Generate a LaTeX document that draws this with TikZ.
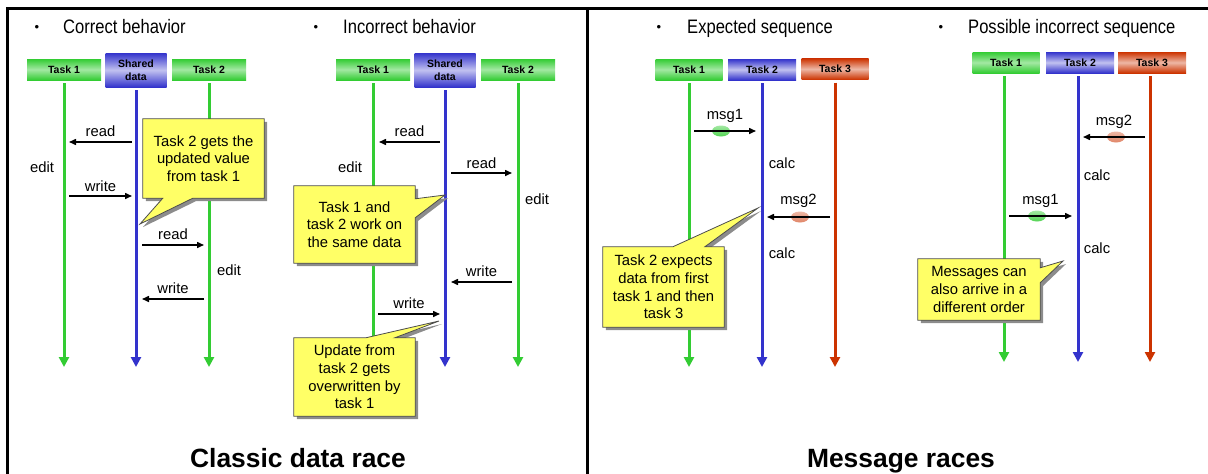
\documentclass[tikz,border=0pt]{standalone}
\usepackage{fontspec}
\setmainfont{Liberation Sans}
\newfontfamily\narrowfont[FakeStretch=0.85]{Liberation Sans}
\usetikzlibrary{arrows.meta, shapes.geometric}

\definecolor{lgreen}{RGB}{51,204,51}
\definecolor{lblue}{RGB}{51,51,204}
\definecolor{lred}{RGB}{204,51,0}
\definecolor{noteyellow}{RGB}{255,255,102}

\pgfdeclarelayer{notebg}
\pgfdeclarelayer{notefg}
\pgfsetlayers{main,notebg,notefg}

\begin{document}
\begin{tikzpicture}[x=1pt, y=-1pt,
    every node/.style={font=\fontsize{14.8}{17.7}\selectfont},
    head/.style={font=\fontsize{10.5}{12.5}\selectfont\bfseries, inner sep=0pt, minimum height=21pt, minimum width=74pt},
    greenhead/.style={head, top color=lgreen, bottom color=lgreen, middle color=lgreen!45!white},
    bluehead/.style={head, top color=lblue, bottom color=lblue, middle color=lblue!30!white},
    redhead/.style={head, top color=lred, bottom color=lred, middle color=lred!35!white},
    life/.style={line width=3pt, shorten <=3pt, -{Triangle[width=10pt,length=10pt]}},
    msg/.style={line width=1.5pt, -{Triangle[width=6pt,length=7pt]}},
    lbl/.style={midway, anchor=base, inner sep=0pt, yshift=6pt},
    mlbl/.style={midway, anchor=base, inner sep=0pt, yshift=11.5pt},
    side/.style={anchor=base, inner sep=0pt},
    dot/.style={ellipse, minimum width=18pt, minimum height=11pt, inner sep=0pt},
    note/.style={fill=noteyellow, draw=black!70, line width=0.8pt,
      preaction={fill=black!45, transform canvas={shift={(3pt,-3pt)}}}},
    notetext/.style={align=center, inner sep=0pt},
    bullet/.style={font=\fontsize{13}{15}\selectfont, anchor=base},
    caption/.style={font=\narrowfont\fontsize{19.5}{22}\selectfont, anchor=base west, inner sep=0pt},
    title/.style={font=\fontsize{26.4}{30}\selectfont\bfseries, anchor=base}
  ]
  \useasboundingbox (0,0) rectangle (1208,474);

  % frame
  \draw[line width=3pt] (7,474) -- (7,8.5) -- (1208,8.5);
  \draw[line width=3pt] (587.5,8.5) -- (587.5,474);

  % ---------- classic data race ----------
  \node[bullet] (b1) at (37,31) {•};
  \node[caption] (h1) at (63,33) {Correct behavior};
  \node[bullet] (b2) at (316,31) {•};
  \node[caption] (h2) at (343,33) {Incorrect behavior};

  \node[greenhead] (ta1) at (64,69.5) {Task 1};
  \node[bluehead, minimum width=61pt, minimum height=34pt, align=center] (sd1) at (136,70) {Shared\\data};
  \node[greenhead] (ta2) at (209,69.5) {Task 2};
  \coordinate (ea1) at (64,367);
  \coordinate (esd1) at (136,367);
  \coordinate (ea2) at (209,367);
  \draw[life, lgreen] (ta1) -- (ea1);
  \draw[life, lblue] (sd1) -- (esd1);
  \draw[life, lgreen] (ta2) -- (ea2);

  \coordinate (r1s) at (132,142);  \coordinate (r1e) at (69,142);
  \coordinate (w1s) at (69,196);   \coordinate (w1e) at (132,196);
  \coordinate (r2s) at (142,245);  \coordinate (r2e) at (204,245);
  \coordinate (w2s) at (204,299);  \coordinate (w2e) at (142,299);
  \draw[msg] (r1s) -- (r1e) node[lbl] {read};
  \draw[msg] (w1s) -- (w1e) node[lbl, yshift=-1pt] {write};
  \draw[msg] (r2s) -- (r2e) node[lbl] {read};
  \draw[msg] (w2s) -- (w2e) node[lbl] {write};
  \node[side] (ed1) at (42,172) {edit};
  \node[side] (ed2) at (229,275) {edit};

  \node[greenhead] (tb1) at (373,69.5) {Task 1};
  \node[bluehead, minimum width=61pt, minimum height=34pt, align=center] (sd2) at (445,70) {Shared\\data};
  \node[greenhead] (tb2) at (518,69.5) {Task 2};
  \coordinate (eb1) at (373,367);
  \coordinate (esd2) at (445,367);
  \coordinate (eb2) at (518,367);
  \draw[life, lgreen] (tb1) -- (eb1);
  \draw[life, lblue] (sd2) -- (esd2);
  \draw[life, lgreen] (tb2) -- (eb2);

  \coordinate (r3s) at (440,142);  \coordinate (r3e) at (379,142);
  \coordinate (r4s) at (451,173);  \coordinate (r4e) at (512,173);
  \coordinate (w3s) at (512,282);  \coordinate (w3e) at (451,282);
  \coordinate (w4s) at (378,314);  \coordinate (w4e) at (440,314);
  \draw[msg] (r3s) -- (r3e) node[lbl] {read};
  \draw[msg] (r4s) -- (r4e) node[lbl, yshift=-1pt] {read};
  \draw[msg] (w3s) -- (w3e) node[lbl] {write};
  \draw[msg] (w4s) -- (w4e) node[lbl] {write};
  \node[side] (ed3) at (350,172) {edit};
  \node[side] (ed4) at (537,204) {edit};

  \node[title] (t1) at (298,467) {Classic data race};

  % ---------- message races ----------
  \node[bullet] (b3) at (659,31) {•};
  \node[caption] (h3) at (687,33) {Expected sequence};
  \node[bullet] (b4) at (941,31) {•};
  \node[caption] (h4) at (968,33) {Possible incorrect sequence};

  \node[greenhead, minimum width=67pt] (tc1) at (689,69.5) {Task 1};
  \node[bluehead, minimum width=68pt] (tc2) at (762,69.5) {Task 2};
  \node[redhead, minimum width=67pt] (tc3) at (835,69) {Task 3};
  \coordinate (ec1) at (689,367);
  \coordinate (ec2) at (762,367);
  \coordinate (ec3) at (835,367);
  \draw[life, lgreen] (tc1) -- (ec1);
  \draw[life, lblue] (tc2) -- (ec2);
  \draw[life, lred] (tc3) -- (ec3);

  \node[dot, top color=lgreen!45!white, bottom color=lgreen!85!white] (d1) at (721,131) {};
  \node[dot, top color=lred!35!white, bottom color=lred!60!white] (d2) at (800,217) {};
  \coordinate (m1s) at (694,131);  \coordinate (m1e) at (756,131);
  \coordinate (m2s) at (830,217);  \coordinate (m2e) at (767,217);
  \draw[msg] (m1s) -- (m1e) node[mlbl] {msg1};
  \draw[msg] (m2s) -- (m2e) node[mlbl, yshift=1.5pt] {msg2};
  \node[side] (k1) at (782,168) {calc};
  \node[side] (k2) at (782,258) {calc};

  \node[greenhead, minimum width=67pt] (td1) at (1006,62.5) {Task 1};
  \node[bluehead, minimum width=68pt] (td2) at (1080,62.5) {Task 2};
  \node[redhead, minimum width=68pt] (td3) at (1152,62.5) {Task 3};
  \coordinate (ed1e) at (1004,362);
  \coordinate (ed2e) at (1078,362);
  \coordinate (ed3e) at (1150,362);
  \draw[life, lgreen] (td1.south -| ed1e) -- (ed1e);
  \draw[life, lblue] (td2.south -| ed2e) -- (ed2e);
  \draw[life, lred] (td3.south -| ed3e) -- (ed3e);

  \node[dot, top color=lred!35!white, bottom color=lred!60!white] (d3) at (1116,137) {};
  \node[dot, top color=lgreen!45!white, bottom color=lgreen!85!white] (d4) at (1037,216) {};
  \coordinate (m3s) at (1145,137); \coordinate (m3e) at (1083,137);
  \coordinate (m4s) at (1009,216); \coordinate (m4e) at (1072,216);
  \draw[msg] (m3s) -- (m3e) node[mlbl] {msg2};
  \draw[msg] (m4s) -- (m4e) node[mlbl] {msg1};
  \node[side] (k3) at (1097,180) {calc};
  \node[side] (k4) at (1097,253) {calc};

  \node[title] (t2) at (901,467) {Message races};

  % callouts
  \begin{pgfonlayer}{notefg}
    \node[notetext, minimum width=121pt, minimum height=79pt] (c1) at (203.5,158.5) {Task 2 gets the\\updated value\\from task 1};
    \node[notetext, minimum width=121pt, minimum height=77pt] (c2) at (354.5,224.5) {Task 1 and\\task 2 work on\\the same data};
    \node[notetext, minimum width=121pt, minimum height=78pt] (c3) at (354.5,377) {Update from\\task 2 gets\\overwritten by\\task 1};
    \node[notetext, minimum width=121pt, minimum height=80pt] (c4) at (663.5,287) {Task 2 expects\\data from first\\task 1 and then\\task 3};
    \node[notetext, minimum width=122pt, minimum height=61pt] (c5) at (979,289.5) {Messages can\\also arrive in a\\different order};
  \end{pgfonlayer}
  \coordinate (p1) at (140,224);
  \coordinate (p2) at (445,195);
  \coordinate (p3) at (439,321);
  \coordinate (p4) at (758,208);
  \coordinate (p5) at (1063,261);

  \begin{pgfonlayer}{notebg}
    \draw[note] (c1.north west) -- (c1.north east) -- (c1.south east)
      -- ([xshift=50pt]c1.south west) -- (p1) -- ([xshift=20pt]c1.south west)
      -- (c1.south west) -- cycle;
    \draw[note] (c2.north west) -- (c2.north east) -- ([yshift=-13pt]c2.north east)
      -- (p2) -- ([yshift=-32pt]c2.north east) -- (c2.south east)
      -- (c2.south west) -- cycle;
    \draw[note] (c3.north west) -- ([xshift=72pt]c3.north west) -- (p3)
      -- ([xshift=101pt]c3.north west) -- (c3.north east) -- (c3.south east)
      -- (c3.south west) -- cycle;
    \draw[note] (c4.north west) -- ([xshift=70pt]c4.north west) -- (p4)
      -- ([xshift=102pt]c4.north west) -- (c4.north east) -- (c4.south east)
      -- (c4.south west) -- cycle;
    \draw[note] (c5.north west) -- (c5.north east) -- ([yshift=-9pt]c5.north east)
      -- (p5) -- ([yshift=-24pt]c5.north east) -- (c5.south east)
      -- (c5.south west) -- cycle;
  \end{pgfonlayer}
\end{tikzpicture}
\end{document}
